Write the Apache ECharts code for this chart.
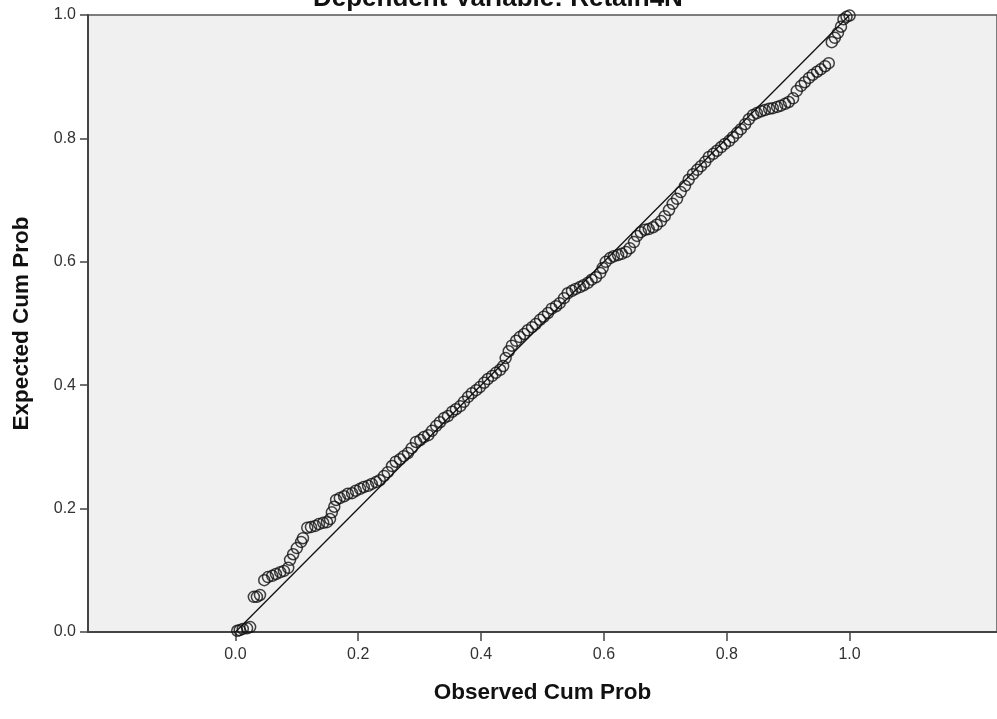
<!DOCTYPE html>
<html>
<head>
<meta charset="utf-8">
<script src="https://cdn.jsdelivr.net/npm/echarts@6/dist/echarts.min.js"></script>
<style>
html,body{margin:0;padding:0;background:#fff;}
#chart{width:997px;height:719px;}
</style>
</head>
<body>
<div id="chart"></div>
<script>
var chartTitle = 'Dependent Variable: Retain4N';
var xTitle = 'Observed Cum Prob';
var yTitle = 'Expected Cum Prob';
var tickValues = [0, 0.2, 0.4, 0.6, 0.8, 1.0];

var observed = [
0.003,0.007,0.012,0.019,0.024,0.030,0.035,0.040,0.047,0.053,
0.060,0.066,0.073,0.079,0.086,0.089,0.094,0.100,0.107,0.110,
0.117,0.123,0.130,0.136,0.143,0.149,0.154,0.157,0.161,0.164,
0.170,0.177,0.183,0.190,0.196,0.203,0.209,0.216,0.222,0.229,
0.235,0.242,0.248,0.255,0.261,0.268,0.274,0.281,0.287,0.294,
0.301,0.307,0.314,0.320,0.327,0.333,0.340,0.346,0.353,0.359,
0.366,0.372,0.379,0.385,0.392,0.398,0.405,0.411,0.418,0.424,
0.431,0.436,0.440,0.445,0.450,0.457,0.463,0.470,0.476,0.483,
0.489,0.496,0.502,0.509,0.515,0.522,0.528,0.535,0.541,0.548,
0.554,0.561,0.567,0.574,0.580,0.587,0.594,0.598,0.603,0.610,
0.616,0.623,0.629,0.636,0.642,0.649,0.654,0.660,0.667,0.673,
0.680,0.686,0.693,0.699,0.706,0.712,0.719,0.725,0.732,0.738,
0.745,0.752,0.758,0.765,0.771,0.778,0.784,0.791,0.797,0.804,
0.810,0.817,0.823,0.830,0.836,0.843,0.849,0.856,0.862,0.869,
0.875,0.882,0.888,0.895,0.901,0.908,0.914,0.921,0.927,0.934,
0.940,0.947,0.953,0.960,0.966,0.971,0.976,0.981,0.986,0.990,
0.995,1.000
];

var expected = [
0.002,0.003,0.005,0.006,0.008,0.057,0.057,0.060,0.084,0.089,
0.091,0.094,0.097,0.099,0.104,0.117,0.126,0.136,0.146,0.152,
0.169,0.170,0.172,0.175,0.177,0.178,0.183,0.194,0.203,0.214,
0.217,0.220,0.224,0.225,0.229,0.232,0.235,0.237,0.240,0.243,
0.246,0.253,0.259,0.269,0.276,0.280,0.285,0.290,0.298,0.308,
0.311,0.316,0.319,0.326,0.334,0.340,0.347,0.350,0.357,0.361,
0.366,0.373,0.381,0.387,0.392,0.397,0.404,0.410,0.415,0.420,
0.425,0.431,0.444,0.455,0.464,0.472,0.478,0.483,0.489,0.494,
0.499,0.506,0.511,0.517,0.524,0.528,0.533,0.541,0.549,0.553,
0.556,0.559,0.562,0.566,0.571,0.575,0.582,0.590,0.600,0.606,
0.609,0.611,0.613,0.616,0.622,0.632,0.642,0.648,0.652,0.653,
0.656,0.660,0.666,0.674,0.684,0.694,0.702,0.713,0.723,0.733,
0.742,0.749,0.755,0.762,0.770,0.775,0.780,0.786,0.791,0.796,
0.802,0.809,0.815,0.823,0.831,0.838,0.841,0.844,0.846,0.848,
0.849,0.851,0.853,0.856,0.859,0.865,0.877,0.885,0.891,0.898,
0.903,0.908,0.912,0.917,0.922,0.956,0.963,0.971,0.981,0.993,
0.997,0.999
];

var refLineX = [0, 1];
var refLineY = [0, 1];

var points = observed.map(function (x, i) { return [x, expected[i]]; });
var refLine = refLineX.map(function (x, i) { return [x, refLineY[i]]; });

var font = '"Liberation Sans", Arial, sans-serif';
var chart = echarts.init(document.getElementById('chart'), null, {renderer: 'canvas'});
chart.setOption({
  animation: false,
  backgroundColor: '#ffffff',
  title: {
    text: chartTitle,
    left: 313,
    top: -14,
    padding: 0,
    textStyle: {fontFamily: font, fontSize: 26, fontWeight: 'bold', color: '#111'}
  },
  grid: {
    left: 88, right: 0, top: 15, bottom: 87,
    show: true,
    backgroundColor: '#f0f0f0',
    borderColor: '#555',
    borderWidth: 1.5
  },
  xAxis: {
    type: 'value',
    min: -0.24,
    max: 1.24,
    name: xTitle,
    nameLocation: 'middle',
    nameGap: 49,
    nameTextStyle: {fontFamily: font, fontSize: 22.5, fontWeight: 'bold', color: '#111'},
    axisLine: {show: true, onZero: false, lineStyle: {color: '#444', width: 2}},
    axisTick: {show: true, customValues: tickValues, length: 9, inside: false, lineStyle: {color: '#444', width: 1.5}},
    axisLabel: {
      customValues: tickValues,
      fontFamily: font, fontSize: 16, color: '#333', margin: 15,
      formatter: function (v) { return v.toFixed(1); }
    },
    splitLine: {show: false}
  },
  yAxis: {
    type: 'value',
    min: 0,
    max: 1,
    interval: 0.2,
    name: yTitle,
    nameLocation: 'middle',
    nameGap: 55,
    nameRotate: 90,
    nameTextStyle: {fontFamily: font, fontSize: 22.5, fontWeight: 'bold', color: '#111'},
    axisLine: {show: true, onZero: false, lineStyle: {color: '#444', width: 2}},
    axisTick: {show: true, length: 8, inside: false, lineStyle: {color: '#444', width: 1.5}},
    axisLabel: {
      fontFamily: font, fontSize: 16, color: '#333', margin: 12,
      formatter: function (v) { return v.toFixed(1); }
    },
    splitLine: {show: false}
  },
  series: [
    {
      type: 'line',
      data: refLine,
      symbol: 'none',
      lineStyle: {color: '#111', width: 1.3},
      silent: true,
      z: 1
    },
    {
      type: 'scatter',
      data: points,
      symbol: 'circle',
      symbolSize: 11,
      itemStyle: {color: 'rgba(0,0,0,0)', borderColor: '#111', borderWidth: 1.5},
      z: 2
    }
  ]
});
</script>
</body>
</html>
